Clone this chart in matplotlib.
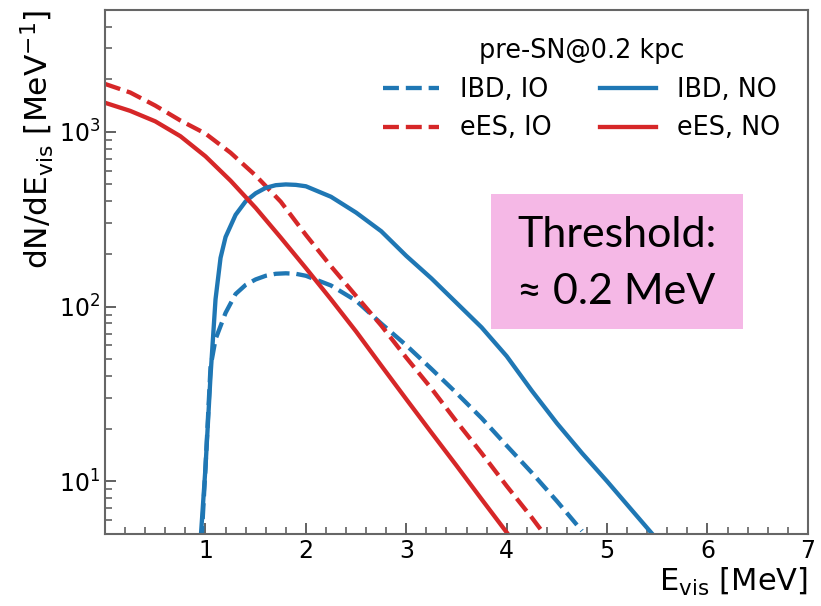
import matplotlib
matplotlib.use("Agg")
import matplotlib.pyplot as plt
from matplotlib.patches import Rectangle
from matplotlib.ticker import MultipleLocator, LogLocator, NullFormatter

plt.rcParams["font.family"] = ["DejaVu Sans"]
plt.rcParams["mathtext.fontset"] = "dejavusans"

ees_no_x = [0.0, 0.25, 0.5, 0.75, 1.0, 1.25, 1.5, 1.75, 2.0, 2.25, 2.5, 2.75, 3.0, 3.25, 3.5, 3.75, 4.0]
ees_no_y = [1466, 1318, 1148, 944, 724, 525, 367, 248, 166, 110, 72, 46, 29.5, 19, 12.3, 7.9, 5.1]

ees_io_x = [0.0, 0.25, 0.5, 0.75, 1.0, 1.25, 1.5, 1.75, 2.0, 2.25, 2.5, 2.75, 3.0, 3.25, 3.5, 3.75,
            4.0, 4.25, 4.35]
ees_io_y = [1879, 1679, 1413, 1161, 977, 759, 562, 398, 257, 170, 115, 78, 51, 34, 22, 14.5,
            9.4, 6.2, 5.2]

ibd_no_x = [0.95, 1.0, 1.05, 1.1, 1.15, 1.2, 1.3, 1.4, 1.5, 1.6, 1.7, 1.8, 1.9, 2.0, 2.25, 2.5, 2.75, 3.0,
            3.25, 3.5, 3.75, 4.0, 4.25, 4.5, 4.75, 5.0, 5.25, 5.45]
ibd_no_y = [4.5, 12, 40, 110, 190, 250, 335, 400, 445, 478, 495, 500, 497, 488, 425, 345, 270, 195,
            145, 105, 76, 52, 33, 21.5, 14.5, 10, 6.8, 5.0]

ibd_io_x = [0.96, 1.0, 1.05, 1.1, 1.2, 1.3, 1.4, 1.5, 1.6, 1.7, 1.8, 1.9, 2.0, 2.25, 2.5, 2.75, 3.0,
            3.25, 3.5, 3.75, 4.0, 4.25, 4.5, 4.75]
ibd_io_y = [4.5, 12, 45, 65, 92, 118, 133, 143, 150, 154, 155, 154, 150, 132, 108, 80, 60,
            44, 32, 23, 16, 11.2, 7.7, 5.2]

BLUE = "#1f77b4"
RED = "#d62728"

fig = plt.figure(figsize=(8.21, 6.06), dpi=100)
ax = fig.add_axes([0.128, 0.119, 0.856, 0.865])

lw = 3.1
ax.plot(ibd_io_x, ibd_io_y, color=BLUE, ls="--", lw=lw, label="IBD, IO")
ax.plot(ees_io_x, ees_io_y, color=RED, ls="--", lw=lw, label="eES, IO")
ax.plot(ibd_no_x, ibd_no_y, color=BLUE, ls="-", lw=lw, label="IBD, NO")
ax.plot(ees_no_x, ees_no_y, color=RED, ls="-", lw=lw, label="eES, NO")

ax.set_yscale("log")
ax.set_xlim(0, 7)
ax.set_ylim(5, 5000)
ax.set_xticks([1, 2, 3, 4, 5, 6, 7])
ax.xaxis.set_minor_locator(MultipleLocator(0.2))
ax.yaxis.set_minor_locator(LogLocator(base=10, subs=range(2, 10)))
ax.yaxis.set_minor_formatter(NullFormatter())

ax.tick_params(which="both", direction="in", top=False, right=False,
               labelsize=17, color="#555555")
ax.tick_params(which="major", length=8, width=1.3)
ax.tick_params(which="minor", length=5, width=1.1)
for sp in ax.spines.values():
    sp.set_color("#666666")
    sp.set_linewidth(1.5)

ax.set_xlabel("E$_\\mathrm{vis}$ [MeV]", fontsize=22, loc="right", labelpad=2)
ax.set_ylabel("dN/dE$_\\mathrm{vis}$ [MeV$^{-1}$]", fontsize=22.5, loc="top", labelpad=2)

leg = ax.legend(title="pre-SN@0.2 kpc", ncol=2, frameon=False, fontsize=18.4,
                title_fontsize=18.4, loc="upper center", bbox_to_anchor=(0.678, 0.99),
                handlelength=2.2, handletextpad=0.8, columnspacing=1.9, labelspacing=0.5)

# pink annotation box
fig.patches.append(Rectangle((0.598, 0.457), 0.307, 0.223, transform=fig.transFigure,
                             facecolor="#f5b8e6", edgecolor="none", zorder=5))
fig.text(0.751, 0.613, "Threshold:", ha="center", va="center", fontsize=31,
         family=["Lato", "DejaVu Sans"], zorder=6)
fig.text(0.751, 0.518, "\u2248 0.2 MeV", ha="center", va="center", fontsize=31,
         family=["Lato", "DejaVu Sans"], zorder=6)

fig.savefig("out.png", dpi=100, facecolor="white")
